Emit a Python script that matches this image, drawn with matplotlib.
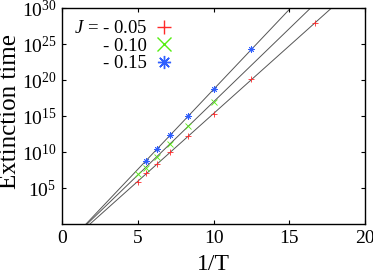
import matplotlib
matplotlib.use('Agg')
import matplotlib.pyplot as plt
import numpy as np

plt.rcParams['font.family'] = ['Liberation Serif', 'DejaVu Serif']
plt.rcParams['mathtext.fontset'] = 'custom'
plt.rcParams['mathtext.rm'] = 'Liberation Serif'
plt.rcParams['mathtext.it'] = 'Liberation Serif:italic'

# inverse temperature and extinction times
inv_T_005 = [5.0, 5.56, 6.25, 7.14, 8.33, 10.0, 12.5, 16.67]
tau_005 = [10**5.9, 10**7.05, 10**8.3, 10**9.95, 10**12.2, 10**15.3, 10**20.1, 10**27.9]

inv_T_010 = [5.0, 5.56, 6.25, 7.14, 8.33, 10.0]
tau_010 = [10**6.95, 10**7.8, 10**9.35, 10**11.1, 10**13.6, 10**17.0]

inv_T_015 = [5.56, 6.25, 7.14, 8.33, 10.0, 12.5]
tau_015 = [10**8.8, 10**10.4, 10**12.35, 10**15.0, 10**18.7, 10**24.25]

labels = [r'$J$ = - 0.05', '- 0.10', '- 0.15']
colors = ['#ff2a2a', '#55ee11', '#2f5fff']
markers = ['+', 'x', (8, 2, 0)]

fig = plt.figure(figsize=(3.73, 2.77), dpi=100)
ax = fig.add_axes([0.166, 0.191, 0.813, 0.78])

series = [(inv_T_005, tau_005), (inv_T_010, tau_010), (inv_T_015, tau_015)]
xfit = np.linspace(0, 20, 200)
for (x, y) in series:
    p = np.polyfit(x, np.log10(y), 1)
    ax.plot(xfit, 10**np.polyval(p, xfit), color='#555555', lw=0.7, zorder=1)

for (x, y), lab, c, m in zip(series, labels, colors, markers):
    ax.plot(x, y, linestyle='none', marker=m, color=c, markersize=4.5,
            markeredgewidth=0.6, label=lab, zorder=2)

ax.set_yscale('log')
ax.set_xlim(0, 20)
ax.set_ylim(1, 1e30)
ax.set_xticks([0, 5, 10, 15, 20])
ax.set_yticks([1e5, 1e10, 1e15, 1e20, 1e25, 1e30])
ax.set_yticklabels([r'$10^{5}$', r'$10^{10}$', r'$10^{15}$', r'$10^{20}$',
                    r'$10^{25}$', r'$10^{30}$'])
ax.minorticks_off()
ax.tick_params(direction='in', top=True, right=True, labelsize=14, length=3, width=0.8, pad=4)
for s in ax.spines.values():
    s.set_linewidth(1.0)

ax.set_xlabel('1/T', fontsize=17)
ax.set_ylabel('Extinction time', fontsize=18)
ax.xaxis.set_label_coords(0.5, -0.14)
ax.yaxis.set_label_coords(-0.135, 0.52)

leg = ax.legend(loc='upper left', frameon=False, markerfirst=False, fontsize=13.5,
                handlelength=1.2, handletextpad=0.3, labelspacing=0.02,
                borderaxespad=0.35, borderpad=0.3, markerscale=2.1)
for h in leg.legend_handles:
    h.set_markeredgewidth(1.0)

fig.savefig('out.png', dpi=100)
